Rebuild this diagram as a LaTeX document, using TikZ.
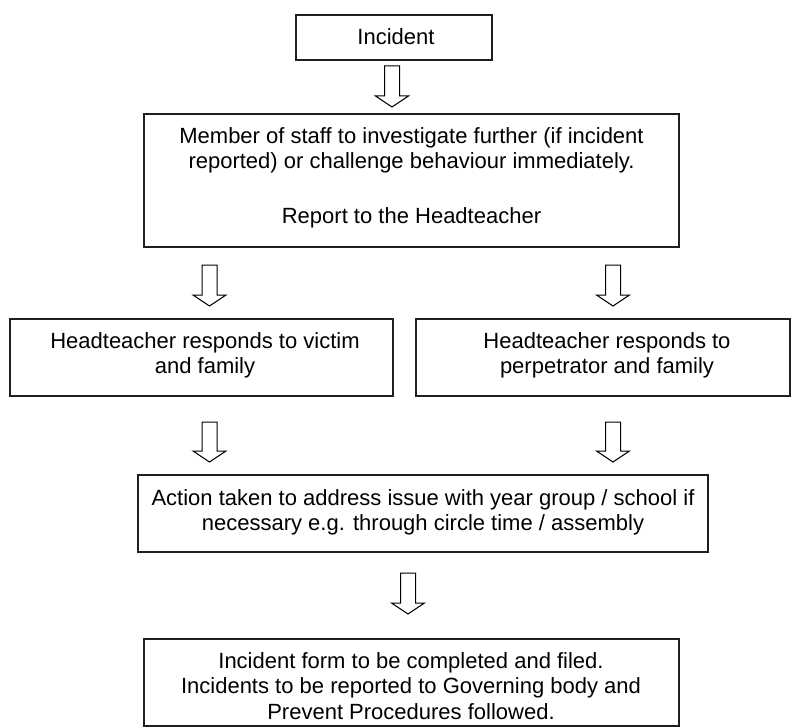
\documentclass[tikz,border=0pt]{standalone}
\usepackage{fontspec}
\setmainfont{Liberation Sans}
\usetikzlibrary{calc}
\tikzset{
  box/.style={draw=black!88, line width=1.6bp, inner sep=0pt, outer sep=0pt},
  txt/.style={font=\fontsize{22bp}{25.5bp}\selectfont, align=center, inner sep=0pt},
  barrow/.style={draw=black, line width=1bp, fill=white, line join=miter}
}
\newcommand\blockarrow[2]{%
  \draw[barrow] let \p1=(#1), \p2=(#2) in
  (\x1-7.5bp,\y1) -- (\x1+7.5bp,\y1) -- (\x1+7.5bp,\y2+11bp) -- (\x1+16.5bp,\y2+11bp)
  -- (\x2,\y2) -- (\x1-16.5bp,\y2+11bp) -- (\x1-7.5bp,\y2+11bp) -- cycle;}
\begin{document}
\begin{tikzpicture}[x=1bp,y=-1bp]
\useasboundingbox (0,0) rectangle (791,727);
% boxes
\node[box, minimum width=196bp, minimum height=45bp] (inc) at (394,37.5) {};
\node[box, minimum width=535bp, minimum height=133bp] (staff) at (411.5,180.5) {};
\node[box, minimum width=383bp, minimum height=77bp] (vic) at (201.5,357.5) {};
\node[box, minimum width=374bp, minimum height=77bp] (perp) at (603,357.5) {};
\node[box, minimum width=570bp, minimum height=77bp] (act) at (423,513.5) {};
\node[box, minimum width=535bp, minimum height=87bp] (form) at (411.5,682.5) {};
% texts
\node[txt, anchor=base] (inct) at (396,45) {Incident};
\node[txt, anchor=north] (stafft) at (411.5,125.15) {\strut Member of staff to investigate further (if incident\\reported) or challenge behaviour immediately.\\[29bp]Report to the Headteacher};
\node[txt, anchor=north] (vict) at (205,330.15) {\strut Headteacher responds to victim\\and family};
\node[txt, anchor=north] (perpt) at (607,330.15) {\strut Headteacher responds to\\perpetrator and family};
\node[txt, anchor=north] (actt) at (423,487.15) {\strut Action taken to address issue with year group / school if\\necessary e.g. through circle time / assembly};
\node[txt, anchor=north] (formt) at (411,650.15) {\strut Incident form to be completed and filed.\\Incidents to be reported to Governing body and\\Prevent Procedures followed.};
% arrow coordinates
\coordinate (a1t) at (392,66);  \coordinate (a1b) at (392,107);
\coordinate (a2lt) at (209.5,265); \coordinate (a2lb) at (209.5,306);
\coordinate (a2rt) at (613,265); \coordinate (a2rb) at (613,306);
\coordinate (a3lt) at (209.5,422); \coordinate (a3lb) at (209.5,462);
\coordinate (a3rt) at (613,422); \coordinate (a3rb) at (613,462);
\coordinate (a4t) at (408,573); \coordinate (a4b) at (408,614);
\blockarrow{a1t}{a1b}
\blockarrow{a2lt}{a2lb}
\blockarrow{a2rt}{a2rb}
\blockarrow{a3lt}{a3lb}
\blockarrow{a3rt}{a3rb}
\blockarrow{a4t}{a4b}
\end{tikzpicture}
\end{document}
